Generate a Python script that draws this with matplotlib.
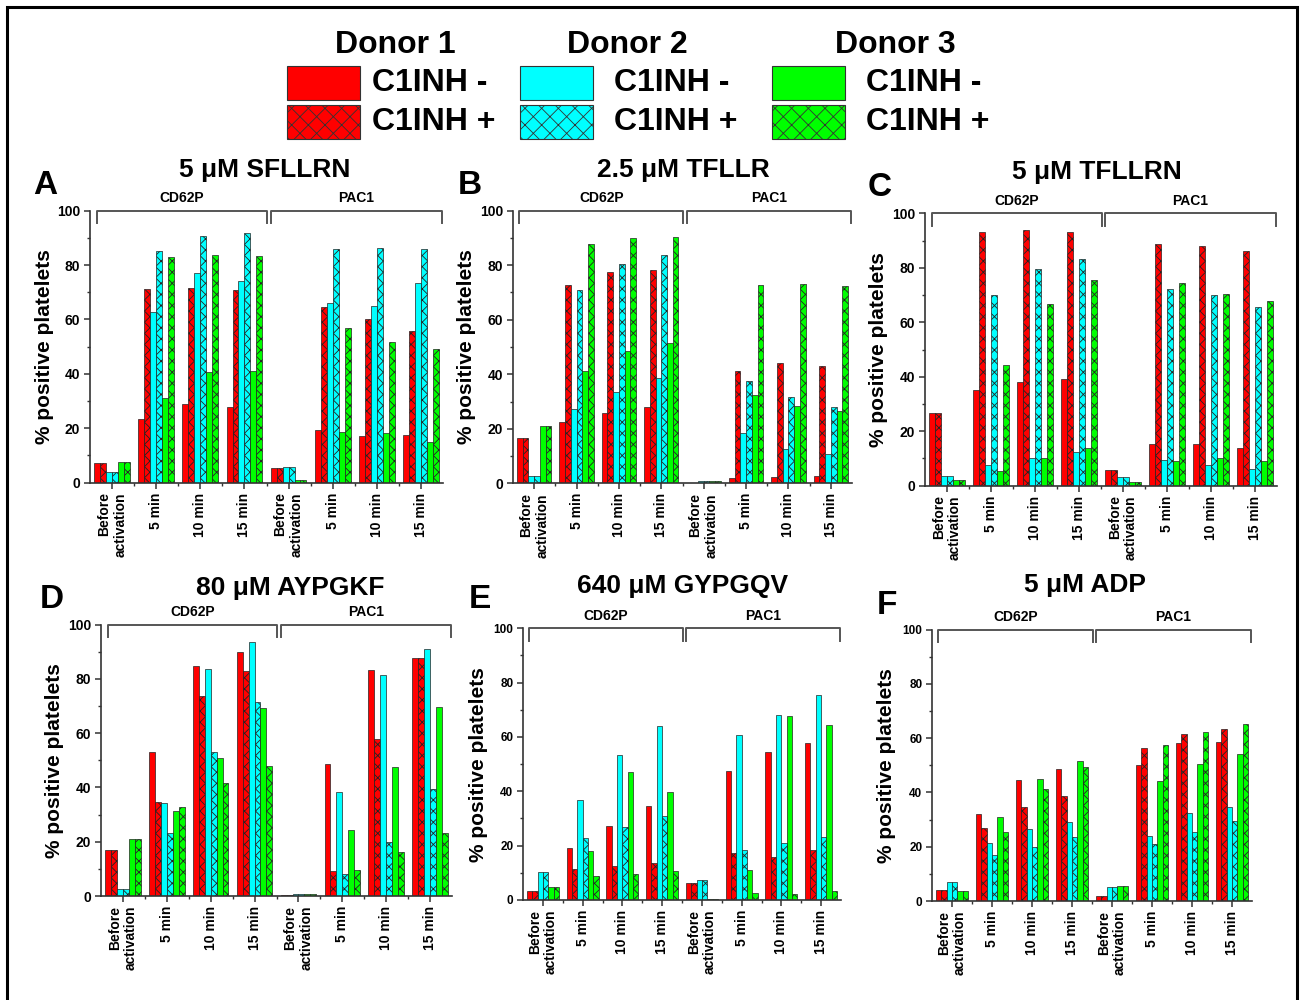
import matplotlib
matplotlib.use("Agg")
import matplotlib.pyplot as plt
from matplotlib.patches import Rectangle
from matplotlib.ticker import MultipleLocator, FixedLocator
import numpy as np

plt.rcParams['font.family'] = ['Liberation Sans', 'DejaVu Sans']
plt.rcParams['font.weight'] = 'bold'
plt.rcParams['hatch.linewidth'] = 0.6

# groups: CD62P (before, 5, 10, 15 min) then PAC1 (before, 5, 10, 15 min)
group_labels = ["Before\nactivation", "5 min", "10 min", "15 min",
                "Before\nactivation", "5 min", "10 min", "15 min"]

# A: 5 uM SFLLRN
a_d1_neg = [7.1, 23.3, 28.8, 27.9, 5.3, 19.4, 17.3, 17.7]
a_d1_pos = [7.1, 71.2, 71.5, 70.9, 5.3, 64.7, 60.1, 55.8]
a_d2_neg = [3.8, 62.7, 77.1, 74.1, 5.6, 66.0, 65.0, 73.5]
a_d2_pos = [3.8, 85.2, 90.7, 91.9, 5.6, 86.0, 86.3, 85.8]
a_d3_neg = [7.5, 31.2, 40.6, 41.0, 0.9, 18.5, 18.2, 15.1]
a_d3_pos = [7.5, 82.9, 83.6, 83.4, 0.9, 56.9, 51.8, 49.2]

# B: 2.5 uM TFLLR
b_d1_neg = [16.6, 22.6, 25.8, 28.0, 0.2, 1.8, 2.3, 2.6]
b_d1_pos = [16.6, 72.9, 77.5, 78.4, 0.2, 41.1, 44.1, 43.2]
b_d2_neg = [2.6, 27.1, 33.4, 38.5, 0.9, 18.6, 12.5, 10.6]
b_d2_pos = [2.6, 70.9, 80.4, 83.7, 0.9, 37.5, 31.8, 28.0]
b_d3_neg = [20.9, 41.3, 48.4, 51.3, 0.9, 32.4, 28.4, 26.5]
b_d3_pos = [20.9, 87.8, 90.0, 90.5, 0.9, 72.7, 73.0, 72.2]

# C: 5 uM TFLLRN
c_d1_neg = [26.6, 35.0, 37.9, 39.2, 5.6, 15.3, 15.3, 13.8]
c_d1_pos = [26.6, 93.0, 93.8, 93.0, 5.6, 88.9, 88.1, 86.2]
c_d2_neg = [3.4, 7.6, 10.0, 12.4, 3.3, 9.3, 7.6, 6.2]
c_d2_pos = [3.4, 70.1, 79.7, 83.1, 3.3, 72.3, 69.9, 65.6]
c_d3_neg = [2.0, 5.5, 10.2, 13.8, 1.2, 9.1, 10.2, 8.9]
c_d3_pos = [2.0, 44.4, 66.8, 75.5, 1.2, 74.3, 70.3, 67.7]

# D: 80 uM AYPGKF
d_d1_neg = [16.8, 53.0, 84.9, 89.8, 0.2, 48.8, 83.4, 87.9]
d_d1_pos = [16.8, 34.8, 73.9, 82.9, 0.2, 9.1, 57.8, 87.9]
d_d2_neg = [2.6, 34.1, 83.8, 93.7, 0.9, 38.2, 81.6, 90.9]
d_d2_pos = [2.6, 23.1, 53.0, 71.5, 0.9, 8.0, 20.0, 39.3]
d_d3_neg = [20.9, 31.5, 50.9, 69.3, 0.9, 24.5, 47.5, 69.6]
d_d3_pos = [20.9, 32.8, 41.7, 48.1, 0.9, 9.7, 16.2, 23.3]

# E: 640 uM GYPGQV
e_d1_neg = [3.3, 19.1, 27.4, 34.7, 6.3, 47.4, 54.6, 57.9]
e_d1_pos = [3.3, 11.3, 12.4, 13.6, 6.3, 17.3, 15.8, 18.3]
e_d2_neg = [10.2, 36.7, 53.5, 63.9, 7.4, 60.7, 68.0, 75.5]
e_d2_pos = [10.2, 22.7, 26.9, 30.8, 7.4, 18.5, 21.1, 23.2]
e_d3_neg = [4.7, 18.0, 47.0, 39.8, 0.5, 11.0, 67.7, 64.4]
e_d3_pos = [4.7, 9.0, 9.6, 10.8, 0.5, 2.5, 2.1, 3.2]

# F: 5 uM ADP
f_d1_neg = [4.1, 32.1, 44.5, 48.8, 1.8, 50.0, 58.1, 58.5]
f_d1_pos = [4.1, 26.8, 34.8, 38.7, 1.8, 56.4, 61.5, 63.4]
f_d2_neg = [6.9, 21.4, 26.4, 29.0, 5.0, 23.8, 32.3, 34.6]
f_d2_pos = [6.9, 16.8, 19.9, 23.7, 5.0, 21.1, 25.3, 29.5]
f_d3_neg = [3.6, 30.8, 45.1, 51.7, 5.4, 44.1, 50.4, 54.2]
f_d3_pos = [3.6, 25.4, 41.4, 49.4, 5.4, 57.4, 62.4, 65.2]

cores = ['#ff0000', '#ff0000', '#00ffff', '#00ffff', '#00ff00', '#00ff00']
hachuras = [None, 'xxx', None, 'xxx', None, 'xxx']

W, H = 1302, 1000

def px(x, y):
    return x / W, 1 - y / H

# painel: (letra, titulo, series, eixo [x0, x1, y_zero, y_cem] em px, pos letra, pos titulo, x do ylabel, fonte ticks y)
paineis = [
    ("A", "5 \u03bcM SFLLRN", [a_d1_neg, a_d1_pos, a_d2_neg, a_d2_pos, a_d3_neg, a_d3_pos],
     (90, 443, 482.7, 210.7), (45, 185), (265, 170), 45, 10),
    ("B", "2.5 \u03bcM TFLLR", [b_d1_neg, b_d1_pos, b_d2_neg, b_d2_pos, b_d3_neg, b_d3_pos],
     (513, 852, 483.3, 210.7), (470, 185), (683, 170), 467, 10),
    ("C", "5 \u03bcM TFLLRN", [c_d1_neg, c_d1_pos, c_d2_neg, c_d2_pos, c_d3_neg, c_d3_pos],
     (925, 1277, 485.7, 213.3), (880, 187), (1097, 172), 878, 10),
    ("D", "80 \u03bcM AYPGKF", [d_d1_neg, d_d1_pos, d_d2_neg, d_d2_pos, d_d3_neg, d_d3_pos],
     (101, 452, 896, 624.7), (52, 600), (290, 588), 55, 10),
    ("E", "640 \u03bcM GYPGQV", [e_d1_neg, e_d1_pos, e_d2_neg, e_d2_pos, e_d3_neg, e_d3_pos],
     (523, 841, 900, 628.3), (480, 600), (683, 586), 478, 8.5),
    ("F", "5 \u03bcM ADP", [f_d1_neg, f_d1_pos, f_d2_neg, f_d2_pos, f_d3_neg, f_d3_pos],
     (932, 1252, 901, 629.7), (887, 605), (1085, 585), 887, 8.5),
]

fig = plt.figure(figsize=(W / 100, H / 100), dpi=100)

largura = 0.135
n_grupos = len(group_labels)
centros = np.arange(n_grupos) + 0.5

for letra, titulo, series, (x0, x1, yz, yc), pos_letra, pos_tit, x_ylab, fs_tick in paineis:
    ax = fig.add_axes([x0 / W, 1 - yz / H, (x1 - x0) / W, (yz - yc) / H])
    for k, valores in enumerate(series):
        pos = centros + (k - 2.5) * largura
        ax.bar(pos, valores, width=largura, color=cores[k], hatch=hachuras[k],
               edgecolor='#222222', linewidth=0.5, zorder=2)

    ax.set_xlim(0, 8)
    ax.set_ylim(0, 100)
    for s in ['top', 'right']:
        ax.spines[s].set_visible(False)
    for s in ['left', 'bottom']:
        ax.spines[s].set_color('#333333')
        ax.spines[s].set_linewidth(1.2)

    ax.set_xticks(centros)
    ax.set_xticklabels(group_labels, rotation=90, fontsize=10, fontweight='bold',
                       va='top', ha='center', multialignment='right')
    ax.xaxis.set_minor_locator(FixedLocator(np.arange(1, 8)))
    ax.yaxis.set_major_locator(MultipleLocator(20))
    ax.yaxis.set_minor_locator(MultipleLocator(10))
    ax.tick_params(which='major', direction='out', length=4, width=1.1, color='#333333', pad=3)
    ax.tick_params(axis='y', which='major', labelsize=fs_tick)
    ax.tick_params(which='minor', direction='out', length=2.5, width=1.0, color='#333333')
    for t in ax.get_yticklabels():
        t.set_fontweight('bold')

    # chaves CD62P / PAC1
    for (b0, b1), nome in [((0.15, 4.02), "CD62P"), ((4.1, 7.97), "PAC1")]:
        ax.plot([b0, b0, b1, b1], [95.5, 100, 100, 95.5], color='#555555', lw=1.4,
                clip_on=False, zorder=3)
        ax.text((b0 + b1) / 2, 104.5, nome, ha='center', va='center', fontsize=10,
                fontweight='bold')

    fx, fy = px(*pos_letra)
    fig.text(fx, fy, letra, fontsize=24, fontweight='bold', ha='center', va='center')
    fx, fy = px(*pos_tit)
    fig.text(fx, fy, titulo, fontsize=19, fontweight='bold', ha='center', va='center')
    fx, fy = px(x_ylab, (yz + yc) / 2)
    fig.text(fx, fy, "% positive platelets", fontsize=15, fontweight='bold',
             rotation=90, ha='center', va='center')

# legenda
doadores = [("Donor 1", '#ff0000', 287, 372, 395), ("Donor 2", '#00ffff', 520, 614, 627),
            ("Donor 3", '#00ff00', 772, 866, 895)]
for nome, cor, xr, xt, xc in doadores:
    fig.text(*px(xc, 45), nome, fontsize=23, fontweight='bold', ha='center', va='center')
    for (ytop, hatch, sinal) in [(66, None, "C1INH -"), (105, 'xx', "C1INH +")]:
        r = Rectangle(px(xr, ytop + 34), 73 / W, 34 / H, transform=fig.transFigure,
                      facecolor=cor, edgecolor='#333333', hatch=hatch, linewidth=0.8)
        fig.add_artist(r)
        fig.text(*px(xt, ytop + 17), sinal, fontsize=23, fontweight='bold',
                 ha='left', va='center')

# moldura
fig.add_artist(Rectangle((7 / W, -0.01), 1290 / W, 1 - 7 / H + 0.01, transform=fig.transFigure,
                         fill=False, edgecolor='black', linewidth=2.2))

fig.savefig("out.png", dpi=100)
